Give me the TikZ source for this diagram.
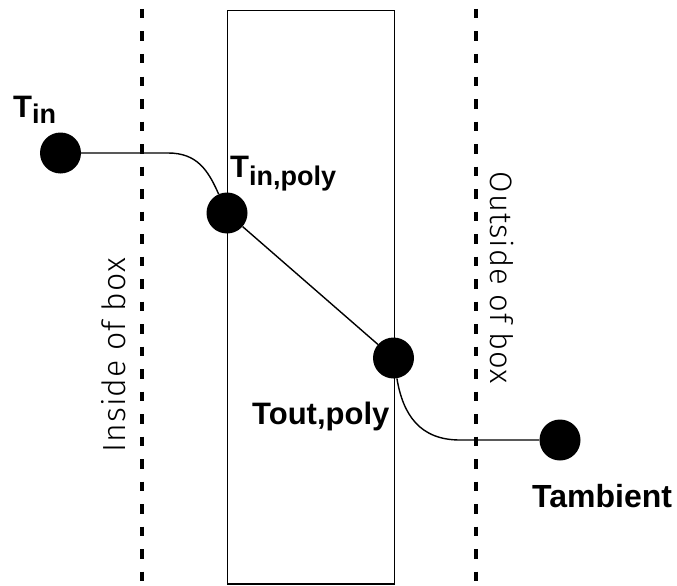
\documentclass[tikz,border=0pt]{standalone}
\usepackage{fontspec}
\setmainfont{Liberation Sans}
\newfontfamily\lightsans[LetterSpace=3]{Fira Sans Light}
\begin{document}
\begin{tikzpicture}[x=1pt,y=-1pt,
  dot/.style={circle,fill=black,inner sep=0pt,minimum size=41pt},
  wire/.style={line width=1.4pt},
  boundary/.style={line width=3.8pt,dash pattern=on 9.5pt off 13pt},
  wallbox/.style={draw,line width=1.5pt,inner sep=0pt,minimum width=167pt,minimum height=573pt,anchor=north west},
  lbl/.style={anchor=base west,inner sep=0pt,font=\bfseries\fontsize{31}{31}\selectfont},
  side/.style={inner sep=0pt,anchor=base,font=\lightsans\fontsize{32}{32}\selectfont}]
\useasboundingbox (0,0) rectangle (677,586);
% box boundaries
\draw[boundary] (142,9) -- (142,586);
\draw[boundary] (476,9) -- (476,586);
% polymer wall
\node[wallbox] (wall) at (226.5,10) {};
% temperature points
\node[dot] (tin) at (60.5,153) {};
\node[dot] (tinpoly) at (227,213) {};
\node[dot] (toutpoly) at (393.5,358) {};
\node[dot] (tamb) at (560,440) {};
% temperature profile
\coordinate (bendin) at (168,153);
\coordinate (bendout) at (460,440);
\draw[wire] (tin) -- (bendin) .. controls (197,153) and (208,170) .. (tinpoly);
\draw[wire] (tinpoly) -- (toutpoly);
\draw[wire] (toutpoly) .. controls (403,415) and (420,440) .. (bendout) -- (tamb);
% labels
\node[lbl] (lin) at (13,117) {T\lower6pt\hbox{\fontsize{27}{27}\selectfont in}};
\node[lbl] (linpoly) at (230,177) {T\lower8pt\hbox{\fontsize{27}{27}\selectfont in,poly}};
\node[lbl] (loutpoly) at (252,424) {Tout,poly};
\node[lbl,font=\bfseries\fontsize{32}{32}\selectfont] (lamb) at (532,507) {Tambient};
\node[side,rotate=90] (inside) at (125,355) {Inside of box};
\node[side,rotate=-90,font=\lightsans\fontsize{31}{31}\selectfont] (outside) at (490,278) {Outside of box};
\end{tikzpicture}
\end{document}
